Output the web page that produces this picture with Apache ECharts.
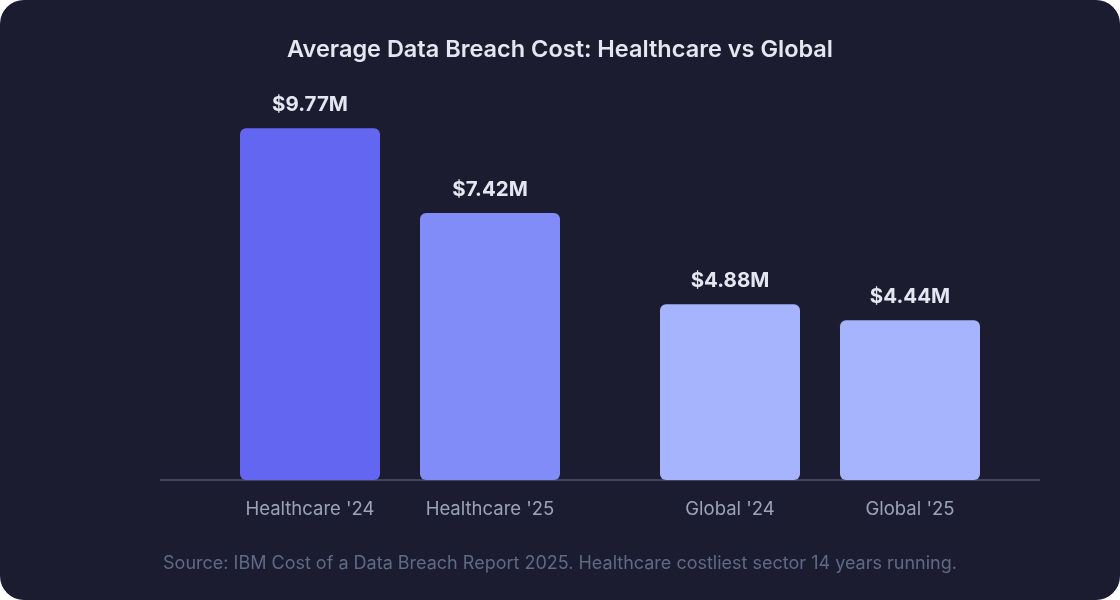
<!DOCTYPE html>
<html>
<head>
<meta charset="utf-8">
<script src="https://cdn.jsdelivr.net/npm/echarts@6/dist/echarts.min.js"></script>
<style>
  html, body {
    margin: 0;
    padding: 0;
    background: #ffffff;
  }
  #chart {
    width: 1120px;
    height: 600px;
    background: #1b1c30;
    border-radius: 24px;
    overflow: hidden;
  }
</style>
</head>
<body>
<div id="chart"></div>
<script>
// data
const groups = ['Healthcare', 'Global']
const years = ["'24", "'25"]
const cost24 = [9.77, 4.88]
const cost25 = [7.42, 4.44]
const colors24 = ['#6366f1', '#a5b4fc']
const colors25 = ['#818cf8', '#a5b4fc']

const chart = echarts.init(document.getElementById('chart'))

const labelText = v => '$' + v.toFixed(2) + 'M'

function makeSeries(name, values, colors) {
  return {
    name: name,
    type: 'bar',
    barWidth: 140,
    barGap: '28.57%',
    z: 5,
    data: values.map((v, i) => ({
      value: v,
      itemStyle: { color: colors[i] }
    })),
    itemStyle: { borderRadius: 6 },
    label: {
      show: true,
      position: 'top',
      distance: 13,
      color: '#e5e7f0',
      fontFamily: 'Inter',
      fontSize: 20.5,
      fontWeight: 700,
      formatter: p => labelText(p.value)
    }
  }
}

const option = {
  animation: false,
  title: [
    {
      text: 'Average Data Breach Cost: Healthcare vs Global',
      left: 'center',
      top: 38,
      padding: 0,
      textStyle: {
        color: '#e4e6f0',
        fontFamily: 'Inter',
        fontSize: 23.5,
        fontWeight: 600
      }
    },
    {
      text: 'Source: IBM Cost of a Data Breach Report 2025. Healthcare costliest sector 14 years running.',
      left: 'center',
      top: 555,
      padding: 0,
      textStyle: {
        color: '#5f6a86',
        fontFamily: 'Inter',
        fontSize: 18,
        fontWeight: 400
      }
    }
  ],
  grid: {
    left: 190,
    right: 90,
    top: 120,
    bottom: 120
  },
  xAxis: {
    type: 'category',
    data: groups,
    axisLine: { show: false },
    axisTick: { show: false },
    axisLabel: {
      margin: 20,
      formatter: v => `{a|${v} ${years[0]}}{b|${v} ${years[1]}}`,
      rich: {
        a: { width: 180, align: 'center', color: '#9ba3b8', fontFamily: 'Inter', fontSize: 18.5 },
        b: { width: 180, align: 'center', color: '#9ba3b8', fontFamily: 'Inter', fontSize: 18.5 }
      }
    }
  },
  yAxis: {
    type: 'value',
    min: 0,
    max: 10,
    show: false
  },
  graphic: [
    {
      type: 'rect',
      z: 1,
      shape: { x: 160, y: 479, width: 880, height: 2 },
      style: { fill: '#42425e' }
    }
  ],
  series: [
    makeSeries(years[0], cost24, colors24),
    makeSeries(years[1], cost25, colors25)
  ]
}

chart.setOption(option)
</script>
</body>
</html>
